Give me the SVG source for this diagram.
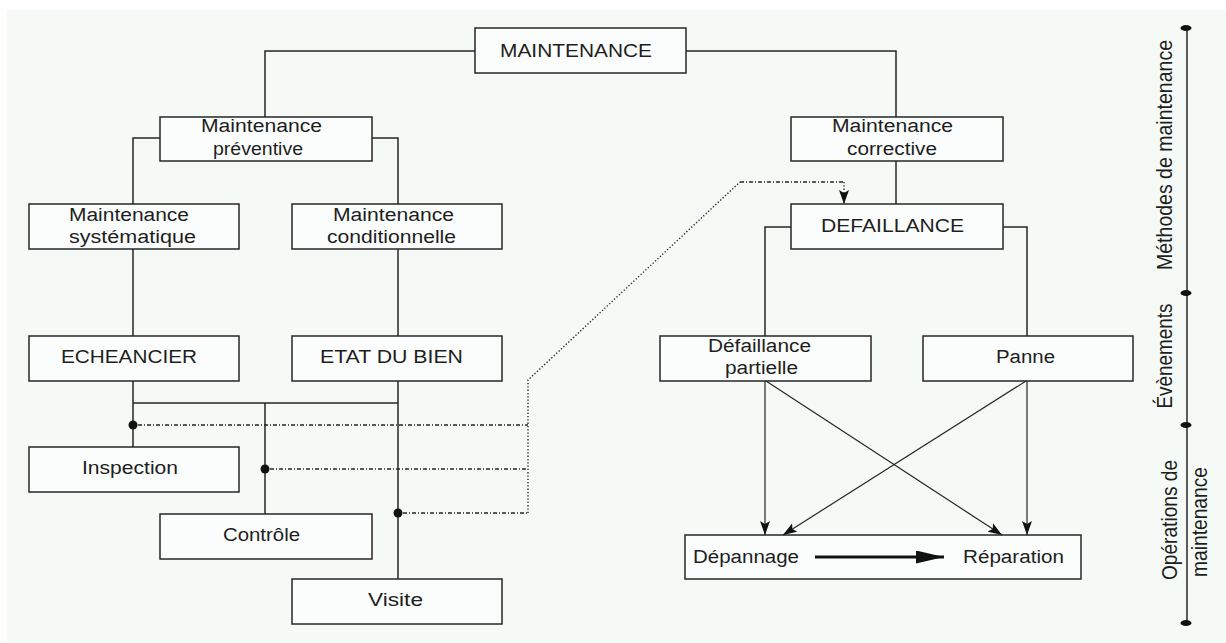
<svg xmlns="http://www.w3.org/2000/svg" width="1226" height="643" viewBox="0 0 1226 643">
<defs>
<style>
.bx{fill:#fafdfb;stroke:#262626;stroke-width:1.5}
.t{font-family:"Liberation Sans",Arial,sans-serif;font-size:18px;fill:#1e1e1e}
.r{font-family:"Liberation Sans",Arial,sans-serif;font-size:19px;fill:#1e1e1e;text-anchor:middle}
.ln{fill:none;stroke:#262626;stroke-width:1.5}
.ar{fill:none;stroke:#262626;stroke-width:1.2}
.dd{fill:none;stroke:#262626;stroke-width:1.3;stroke-dasharray:4 2 1 2}
.dt{fill:none;stroke:#262626;stroke-width:1.4;stroke-dasharray:1.3 2}
</style>
<marker id="ah" markerUnits="userSpaceOnUse" viewBox="0 0 14 10" markerWidth="14" markerHeight="10" refX="14" refY="5" orient="auto">
<path d="M0,0 L14,5 L0,10 L3,5 z" fill="#111"/>
</marker>
<marker id="ahb" markerUnits="userSpaceOnUse" viewBox="0 0 28 13" markerWidth="28" markerHeight="13" refX="28" refY="6.5" orient="auto">
<path d="M0,0 L28,6.5 L0,13 z" fill="#111"/>
</marker>
</defs>
<rect x="0" y="0" width="1226" height="643" fill="#ffffff"/>
<rect x="7" y="10" width="1219" height="633" fill="#f5faf7"/>

<g id="maintenance">
<rect class="bx" x="475" y="28" width="211" height="45"/>
<text class="t" x="500" y="57" textLength="152" lengthAdjust="spacingAndGlyphs">MAINTENANCE</text>
</g>
<g id="preventive">
<rect class="bx" x="160" y="117" width="212" height="44"/>
<text class="t" x="201" y="132" textLength="121" lengthAdjust="spacingAndGlyphs">Maintenance</text>
<text class="t" x="213" y="155" textLength="90" lengthAdjust="spacingAndGlyphs">préventive</text>
</g>
<g id="corrective">
<rect class="bx" x="791" y="117" width="212" height="44"/>
<text class="t" x="832" y="132" textLength="121" lengthAdjust="spacingAndGlyphs">Maintenance</text>
<text class="t" x="847" y="155" textLength="90" lengthAdjust="spacingAndGlyphs">corrective</text>
</g>
<g id="systematique">
<rect class="bx" x="29" y="204" width="210" height="45"/>
<text class="t" x="69" y="221" textLength="120" lengthAdjust="spacingAndGlyphs">Maintenance</text>
<text class="t" x="69" y="243" textLength="127" lengthAdjust="spacingAndGlyphs">systématique</text>
</g>
<g id="conditionnelle">
<rect class="bx" x="292" y="204" width="210" height="45"/>
<text class="t" x="333" y="221" textLength="121" lengthAdjust="spacingAndGlyphs">Maintenance</text>
<text class="t" x="327" y="243" textLength="129" lengthAdjust="spacingAndGlyphs">conditionnelle</text>
</g>
<g id="defaillance">
<rect class="bx" x="791" y="204" width="212" height="45"/>
<text class="t" x="821" y="232" textLength="143" lengthAdjust="spacingAndGlyphs">DEFAILLANCE</text>
</g>
<g id="echeancier">
<rect class="bx" x="29" y="336" width="210" height="45"/>
<text class="t" x="61" y="363" textLength="136" lengthAdjust="spacingAndGlyphs">ECHEANCIER</text>
</g>
<g id="etat">
<rect class="bx" x="292" y="336" width="210" height="45"/>
<text class="t" x="320" y="363" textLength="143" lengthAdjust="spacingAndGlyphs">ETAT DU BIEN</text>
</g>
<g id="partielle">
<rect class="bx" x="660" y="336" width="211" height="45"/>
<text class="t" x="708" y="352" textLength="103" lengthAdjust="spacingAndGlyphs">Défaillance</text>
<text class="t" x="725" y="374" textLength="73" lengthAdjust="spacingAndGlyphs">partielle</text>
</g>
<g id="panne">
<rect class="bx" x="923" y="336" width="210" height="45"/>
<text class="t" x="996" y="363" textLength="59" lengthAdjust="spacingAndGlyphs">Panne</text>
</g>
<g id="inspection">
<rect class="bx" x="29" y="447" width="210" height="45"/>
<text class="t" x="82" y="474" textLength="96" lengthAdjust="spacingAndGlyphs">Inspection</text>
</g>
<g id="controle">
<rect class="bx" x="160" y="514" width="212" height="45"/>
<text class="t" x="223" y="541" textLength="77" lengthAdjust="spacingAndGlyphs">Contrôle</text>
</g>
<g id="visite">
<rect class="bx" x="292" y="579" width="210" height="45"/>
<text class="t" x="368" y="606" textLength="55" lengthAdjust="spacingAndGlyphs">Visite</text>
</g>
<g id="operations">
<rect class="bx" x="685" y="535" width="396" height="44"/>
<text class="t" x="693" y="563" textLength="106" lengthAdjust="spacingAndGlyphs">Dépannage</text>
<text class="t" x="963" y="563" textLength="101" lengthAdjust="spacingAndGlyphs">Réparation</text>
</g>
<g id="axis-labels">
<text class="r" transform="translate(1172,155) rotate(-90) scale(1,1.12)" textLength="230" lengthAdjust="spacingAndGlyphs">Méthodes de maintenance</text>
<text class="r" transform="translate(1172,356) rotate(-90) scale(1,1.12)" textLength="105" lengthAdjust="spacingAndGlyphs">Évènements</text>
<text class="r" transform="translate(1177,520) rotate(-90) scale(1,1.12)" textLength="120" lengthAdjust="spacingAndGlyphs">Opérations de</text>
<text class="r" transform="translate(1207,522) rotate(-90) scale(1,1.12)" textLength="110" lengthAdjust="spacingAndGlyphs">maintenance</text>
</g>

<g id="connectors">
<polyline class="ln" points="265,117 265,51 475,51"/>
<polyline class="ln" points="686,51 896,51 896,117"/>
<polyline class="ln" points="160,138 133,138 133,204"/>
<polyline class="ln" points="372,138 398,138 398,204"/>
<line class="ln" x1="133" y1="249" x2="133" y2="336"/>
<line class="ln" x1="398" y1="249" x2="398" y2="336"/>
<line class="ln" x1="133" y1="381" x2="133" y2="447"/>
<line class="ln" x1="133" y1="403" x2="398" y2="403"/>
<line class="ln" x1="265" y1="403" x2="265" y2="514"/>
<line class="ln" x1="398" y1="381" x2="398" y2="579"/>
<circle cx="133" cy="425" r="4.5" fill="#111"/>
<circle cx="265" cy="469" r="4.5" fill="#111"/>
<circle cx="398" cy="513" r="4.5" fill="#111"/>
<line class="dd" x1="138" y1="425" x2="528" y2="425"/>
<line class="dd" x1="270" y1="469" x2="528" y2="469"/>
<line class="dd" x1="403" y1="513" x2="528" y2="513"/>
<polyline class="dt" points="528,513 528,380 740,182"/>
<line class="dd" x1="740" y1="182" x2="844" y2="182"/>
<line class="dt" x1="844" y1="182" x2="844" y2="204" marker-end="url(#ah)"/>
<line class="ln" x1="896" y1="161" x2="896" y2="204"/>
<polyline class="ln" points="791,227 765,227 765,336"/>
<polyline class="ln" points="1003,227 1027,227 1027,336"/>
<line class="ar" x1="765" y1="381" x2="765" y2="535" marker-end="url(#ah)"/>
<line class="ar" x1="766" y1="381" x2="1002" y2="535" marker-end="url(#ah)"/>
<line class="ar" x1="1027" y1="381" x2="1027" y2="535" marker-end="url(#ah)"/>
<line class="ar" x1="1026" y1="381" x2="783" y2="535" marker-end="url(#ah)"/>
<line x1="815" y1="557" x2="944" y2="557" stroke="#111" stroke-width="3" marker-end="url(#ahb)"/>
<line class="ln" x1="1187" y1="28" x2="1187" y2="623"/>
<ellipse cx="1186" cy="28" rx="5.5" ry="3" fill="#111"/>
<ellipse cx="1186" cy="293" rx="5.5" ry="3" fill="#111"/>
<ellipse cx="1186" cy="425" rx="5.5" ry="3" fill="#111"/>
<ellipse cx="1186" cy="623" rx="5.5" ry="3" fill="#111"/>
</g>
</svg>
